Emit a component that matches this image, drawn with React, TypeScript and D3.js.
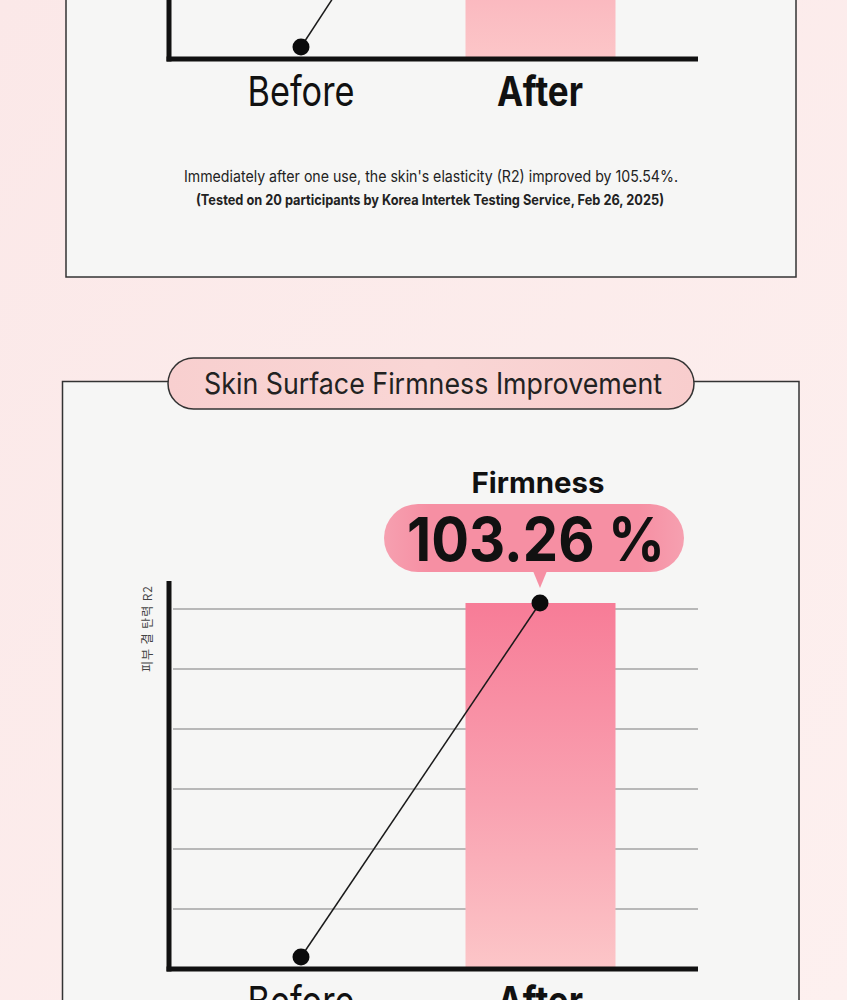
import React from 'react';
import * as d3 from 'd3';

// ---- data ----
const categories: string[] = ['Before', 'After'];
const elasticityValues: number[] = [0.2, 6.3];
const firmnessValues: number[] = [0.2, 6.1];
const gridTicks: number[] = [1, 2, 3, 4, 5, 6];
const yDomain: [number, number] = [0, 6];
const titleText = 'Skin Surface Firmness Improvement';
const firmnessLabel = 'Firmness';
const firmnessPercent = '103.26 %';
const yAxisLabel = '피부 결 탄력 R2';
const captionLines: string[] = [
  "Immediately after one use, the skin's elasticity (R2) improved by 105.54%.",
  '(Tested on 20 participants by Korea Intertek Testing Service, Feb 26, 2025)',
];

const FONT = 'Inter, Roboto, sans-serif';

type ChartProps = { baseY: number; values: number[]; gradId: string; showYLabel?: boolean };

function BeforeAfterChart({ baseY, values, gradId, showYLabel }: ChartProps) {
  const axisX = 169;
  const axisEnd = 698;
  const x = d3.scalePoint<string>().domain(categories).range([301, 540]);
  const y = d3.scaleLinear().domain(yDomain).range([baseY, baseY - 360]);
  const barW = 150;
  const pts: [number, number][] = categories.map((c, i) => [x(c) as number, y(values[i])]);
  const line = d3.line()(pts) as string;
  const afterX = x('After') as number;
  const barTop = y(values[1]);
  return (
    <g>
      <defs>
        <linearGradient id={gradId} x1="0" y1="0" x2="0" y2="1">
          <stop offset="0%" stopColor="#f77c97" />
          <stop offset="55%" stopColor="#f9a2b1" />
          <stop offset="100%" stopColor="#fcc6c8" />
        </linearGradient>
      </defs>
      {gridTicks.map((t) => (
        <line key={t} x1={axisX + 4} x2={axisEnd} y1={y(t)} y2={y(t)} stroke="#a3a3a3" strokeWidth={1.4} />
      ))}
      <rect x={afterX - barW / 2 + 0.5} y={barTop} width={barW} height={baseY - barTop} fill={`url(#${gradId})`} />
      <line x1={axisX} x2={axisX} y1={baseY - 388} y2={baseY + 2.5} stroke="#111" strokeWidth={5} />
      <line x1={axisX - 2.5} x2={axisEnd} y1={baseY} y2={baseY} stroke="#111" strokeWidth={5} />
      <path d={line} fill="none" stroke="#1a1a1a" strokeWidth={1.5} />
      {pts.map((p, i) => (
        <circle key={i} cx={p[0]} cy={p[1]} r={8.5} fill="#0b0b0b" />
      ))}
      {categories.map((c, i) => (
        <text
          key={c}
          x={x(c) as number}
          y={baseY + 47}
          textAnchor="middle"
          fontFamily={FONT}
          fontSize={41}
          fontWeight={i === 1 ? 700 : 400}
          fill="#111"
          textLength={i === 1 ? 86 : 107}
          lengthAdjust="spacingAndGlyphs"
        >
          {c}
        </text>
      ))}
      {showYLabel && (
        <text
          transform={`translate(152, ${baseY - 340}) rotate(-90)`}
          textAnchor="middle"
          fontFamily={"'Noto Sans CJK KR', " + FONT}
          fontSize={12}
          fill="#444"
          textLength={86}
          lengthAdjust="spacing"
        >
          {yAxisLabel}
        </text>
      )}
    </g>
  );
}

export default function App() {
  return (
    <svg
      width={847}
      height={1000}
      viewBox="0 0 847 1000"
      style={{ position: 'absolute', left: 0, top: 0, display: 'block' }}
    >
      <defs>
        <linearGradient id="bgGrad" x1="0" y1="0" x2="1" y2="1">
          <stop offset="0%" stopColor="#fbe8e8" />
          <stop offset="100%" stopColor="#fdf0ef" />
        </linearGradient>
        <linearGradient id="titleGrad" x1="0" y1="0" x2="1" y2="0">
          <stop offset="0%" stopColor="#f8cfcf" />
          <stop offset="50%" stopColor="#f9d6d5" />
          <stop offset="100%" stopColor="#f8cdcd" />
        </linearGradient>
        <linearGradient id="pillGrad" x1="0" y1="0" x2="1" y2="0">
          <stop offset="0%" stopColor="#f6a0b0" />
          <stop offset="15%" stopColor="#f68fa3" />
          <stop offset="85%" stopColor="#f68fa3" />
          <stop offset="100%" stopColor="#f6a0b0" />
        </linearGradient>
      </defs>
      <rect x={0} y={0} width={847} height={1000} fill="url(#bgGrad)" />

      {/* top panel (continuation) */}
      <rect x={66} y={-400} width={730} height={677} fill="#f6f6f5" stroke="#333" strokeWidth={1.5} />
      <BeforeAfterChart baseY={59} values={elasticityValues} gradId="barGradTop" />
      <text x={431} y={182} textAnchor="middle" fontFamily={FONT} fontSize={16} fill="#222" textLength={494} lengthAdjust="spacingAndGlyphs">
        {captionLines[0]}
      </text>
      <text x={430} y={205} textAnchor="middle" fontFamily={FONT} fontSize={14.5} fontWeight={700} fill="#222" textLength={468} lengthAdjust="spacingAndGlyphs">
        {captionLines[1]}
      </text>

      {/* second panel */}
      <rect x={62.5} y={381.5} width={736.5} height={800} fill="#f6f6f5" stroke="#333" strokeWidth={1.5} />
      <rect x={168} y={358} width={526} height={51} rx={25.5} fill="url(#titleGrad)" stroke="#333" strokeWidth={1.5} />
      <text x={433} y={394} textAnchor="middle" fontFamily={FONT} fontSize={29.5} fill="#222" textLength={458} lengthAdjust="spacingAndGlyphs">
        {titleText}
      </text>

      <text x={538} y={493} textAnchor="middle" fontFamily={FONT} fontSize={28.5} fontWeight={700} fill="#111" textLength={133} lengthAdjust="spacingAndGlyphs">
        {firmnessLabel}
      </text>
      <rect x={384} y={504} width={300} height={68} rx={34} fill="url(#pillGrad)" />
      <path d="M533,571 L547,571 L540,588 Z" fill="#f68fa3" />
      <text x={536} y={561} textAnchor="middle" fontFamily={FONT} fontSize={61} fontWeight={700} fill="#111" textLength={258} lengthAdjust="spacingAndGlyphs">
        {firmnessPercent}
      </text>

      <BeforeAfterChart baseY={969} values={firmnessValues} gradId="barGradBottom" showYLabel />
    </svg>
  );
}
